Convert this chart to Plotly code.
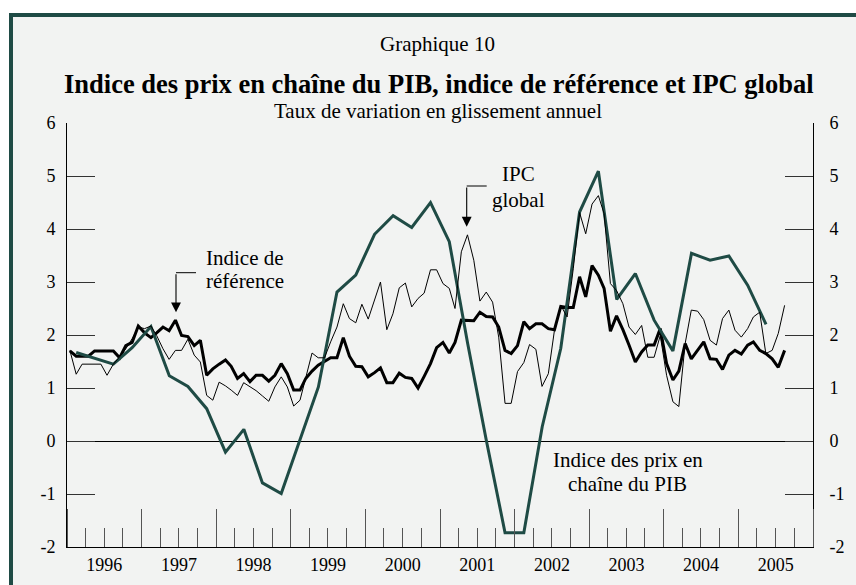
import pandas as pd
import plotly.graph_objects as go

# ---------------- data ----------------
month_start = "1996-01-01"
# Indice de référence (monthly, y/y %)
reference = [
    1.70, 1.60, 1.60, 1.60, 1.70, 1.70, 1.70, 1.70, 1.57, 1.80, 1.86, 2.17,   # 1996
    2.04, 1.95, 2.04, 2.15, 2.08, 2.28, 1.99, 1.97, 1.80, 1.90, 1.24, 1.36,   # 1997
    1.45, 1.53, 1.41, 1.18, 1.27, 1.12, 1.24, 1.24, 1.13, 1.24, 1.46, 1.27,   # 1998
    0.96, 0.96, 1.18, 1.32, 1.43, 1.50, 1.57, 1.57, 1.95, 1.60, 1.41, 1.40,   # 1999
    1.21, 1.29, 1.38, 1.10, 1.10, 1.28, 1.20, 1.18, 1.00, 1.22, 1.46, 1.76,   # 2000
    1.86, 1.66, 1.86, 2.28, 2.27, 2.27, 2.43, 2.35, 2.34, 2.15, 1.71, 1.65,   # 2001
    1.80, 2.25, 2.12, 2.21, 2.21, 2.12, 2.10, 2.54, 2.52, 2.52, 3.10, 2.72,   # 2002
    3.31, 3.13, 2.88, 2.07, 2.36, 2.10, 1.81, 1.49, 1.68, 1.81, 1.81, 2.12,   # 2003
    1.46, 1.15, 1.32, 1.84, 1.55, 1.71, 1.87, 1.55, 1.54, 1.35, 1.62, 1.71,   # 2004
    1.64, 1.81, 1.87, 1.71, 1.65, 1.55, 1.39, 1.71,                           # 2005
]
# IPC global (monthly, y/y %)
ipc_global = [
    1.71, 1.26, 1.45, 1.45, 1.45, 1.45, 1.24, 1.45, 1.59, 1.74, 1.93, 2.15,   # 1996
    2.12, 2.17, 1.99, 1.74, 1.54, 1.71, 1.71, 1.92, 1.62, 1.49, 0.86, 0.77,   # 1997
    1.11, 1.04, 0.96, 0.86, 1.10, 1.03, 0.95, 0.85, 0.75, 1.02, 1.21, 1.02,   # 1998
    0.66, 0.77, 1.21, 1.66, 1.57, 1.57, 1.87, 2.15, 2.59, 2.31, 2.23, 2.58,   # 1999
    2.30, 2.65, 3.00, 2.10, 2.40, 2.89, 2.98, 2.53, 2.69, 2.79, 3.23, 3.23,   # 2000
    2.97, 2.88, 2.50, 3.57, 3.89, 3.41, 2.64, 2.81, 2.62, 1.96, 0.71, 0.71,   # 2001
    1.31, 1.48, 1.82, 1.73, 1.03, 1.27, 2.09, 2.56, 2.34, 3.25, 4.31, 3.91,   # 2002
    4.47, 4.63, 4.29, 2.97, 2.84, 2.59, 2.15, 2.01, 2.18, 1.58, 1.58, 1.99,   # 2003
    1.24, 0.74, 0.65, 1.84, 2.47, 2.45, 2.29, 1.90, 1.81, 2.31, 2.47, 2.09,   # 2004
    1.96, 2.12, 2.34, 2.43, 1.65, 1.71, 2.03, 2.56,                           # 2005
]
quarter_start = "1996-01-01"
# Indice des prix en chaîne du PIB (quarterly, y/y %)
gdp_chain = [
    1.67, 1.56, 1.45, 1.76,    # 1996
    2.16, 1.23, 1.03, 0.61,    # 1997
    -0.21, 0.22, -0.79, -0.99, # 1998
    0.02, 1.02, 2.81, 3.13,    # 1999
    3.90, 4.25, 4.03, 4.50,    # 2000
    3.76, 1.84, 0.02, -1.73,   # 2001
    -1.73, 0.27, 1.75, 4.32,   # 2002
    5.09, 2.67, 3.16, 2.28,    # 2003
    1.70, 3.54, 3.41, 3.49,    # 2004
    2.94, 2.20,                # 2005
]
y_ticks = [-2, -1, 0, 1, 2, 3, 4, 5, 6]
y_tick_text = ["-2", "-1", "0", "1", "2", "3", "4", "5", "6"]

month_x = pd.date_range(month_start, periods=len(reference), freq="MS") + pd.Timedelta(days=14)
quarter_x = pd.date_range(quarter_start, periods=len(gdp_chain), freq="QS") + pd.Timedelta(days=45)

# ---------------- styling ----------------
SERIF = "Liberation Serif, Times New Roman, serif"
TEAL = "#1f4b45"
BG = "#f2f3f2"
W, H = 856, 585
L, R, T, B = 67, 43, 123, 38
PW, PH = W - L - R, H - T - B


def px(x):
    return (x - L) / PW


def py(y):
    return (H - B - y) / PH


fig = go.Figure()
fig.add_trace(go.Scatter(x=month_x, y=ipc_global, mode="lines", yaxis="y2",
                         line=dict(color="black", width=1), name="IPC global"))
fig.add_trace(go.Scatter(x=month_x, y=reference, mode="lines",
                         line=dict(color="black", width=3), name="Indice de référence"))
fig.add_trace(go.Scatter(x=quarter_x, y=gdp_chain, mode="lines",
                         line=dict(color=TEAL, width=3), name="Indice des prix en chaîne du PIB"))

yaxis_common = dict(range=[-2, 6], tickvals=y_ticks, ticktext=y_tick_text, ticks="inside",
                    ticklen=28, tickwidth=1, tickcolor="#333", showline=True, linecolor="black",
                    linewidth=1, showgrid=False, automargin=False,
                    tickfont=dict(family=SERIF, size=18, color="black"))

fig.update_layout(
    width=W, height=H,
    margin=dict(l=L, r=R, t=T, b=B, pad=0, autoexpand=False),
    paper_bgcolor="white", plot_bgcolor="rgba(0,0,0,0)",
    showlegend=False,
    font=dict(family=SERIF, size=18, color="black"),
    xaxis=dict(type="date", range=["1996-01-01", "2006-01-01"], tick0="1996-01-01", dtick="M12",
               ticklabelmode="period", tickformat="%Y", ticks="inside", ticklen=38, tickwidth=1,
               tickcolor="#555", showline=True, linecolor="black", linewidth=1, showgrid=False,
               zeroline=False, ticklabelstandoff=1, automargin=False,
               tickfont=dict(family=SERIF, size=18, color="black"),
               minor=dict(dtick="M3", tick0="1996-01-01", ticks="inside", ticklen=19,
                          tickwidth=1, tickcolor="#555", showgrid=False)),
    yaxis=dict(**yaxis_common, zeroline=True, zerolinecolor="black", zerolinewidth=1,
               ticklabelstandoff=7),
    yaxis2=dict(**yaxis_common, overlaying="y", side="right", zeroline=False,
                ticklabelstandoff=12),
)

# frame and background
fig.add_shape(type="rect", xref="paper", yref="paper", x0=px(11), x1=px(900), y0=py(640), y1=py(15),
              line=dict(color=TEAL, width=4), fillcolor=BG, layer="below")

S = 21


def text(x, baseline, s, size=S, bold=False):
    cy = baseline - 0.34 * size
    fig.add_annotation(x=px(x), y=py(cy), xref="paper", yref="paper", text=("<b>%s</b>" % s) if bold else s,
                       showarrow=False, xanchor="center", yanchor="middle",
                       font=dict(family=SERIF, size=size, color="black"))


text(437.5, 51, "Graphique 10")
text(438.5, 93.3, "Indice des prix en chaîne du PIB, indice de référence et IPC global", size=26.5, bold=True)
text(438, 118.3, "Taux de variation en glissement annuel")
text(245, 265, "Indice de")
text(245, 288.3, "référence")
text(518.3, 180.7, "IPC")
text(518, 206.7, "global")
text(627.8, 466.7, "Indice des prix en")
text(627, 490.7, "chaîne du PIB")

# bracket arrows
for (ax_, top, tip, hx) in [(176, 272.7, 312.3, 196), (466.7, 186, 226.7, 486.7)]:
    fig.add_shape(type="line", xref="paper", yref="paper", x0=px(ax_), x1=px(hx), y0=py(top), y1=py(top),
                  line=dict(color="black", width=1))
    fig.add_annotation(x=px(ax_), y=py(tip), xref="paper", yref="paper", text="", showarrow=True,
                       ax=0, ay=top - tip, arrowhead=2, arrowsize=1.8, arrowwidth=1.1,
                       arrowcolor="black", standoff=0)

fig.write_html("out.html", config={"displayModeBar": False},
               post_script="document.body.style.margin='0';document.body.style.overflow='hidden';")
